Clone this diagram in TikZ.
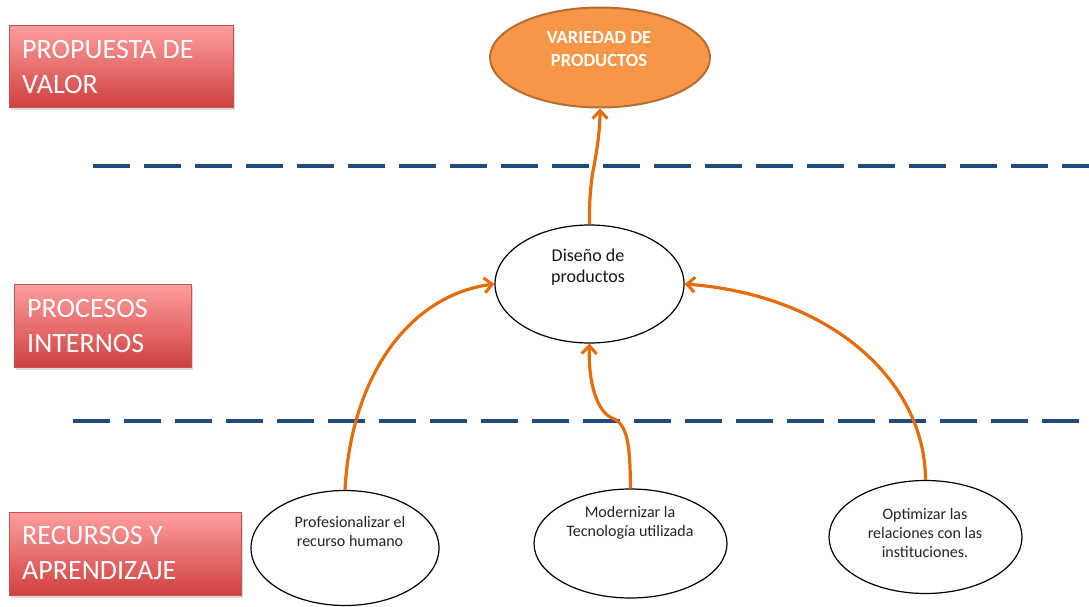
\documentclass[tikz,border=0pt]{standalone}
\usepackage{fontspec}
\setmainfont{Carlito}
\usetikzlibrary{arrows.meta,shadows,shapes.geometric}

\definecolor{boxtop}{RGB}{255,158,158}
\definecolor{boxbot}{RGB}{206,64,62}
\definecolor{boxline}{RGB}{200,84,80}
\definecolor{valfill}{RGB}{247,150,70}
\definecolor{valline}{RGB}{182,110,50}
\definecolor{flow}{RGB}{228,108,10}
\definecolor{divider}{RGB}{34,74,128}

\begin{document}
\begin{tikzpicture}[x=1pt,y=-1pt,
  perspbox/.style={draw=boxline, line width=0.8pt, top color=boxtop, bottom color=boxbot,
    anchor=north west, inner sep=0pt,
    drop shadow={shadow xshift=2pt, shadow yshift=-2.5pt, opacity=0.3}},
  boxlabel/.style={text=white, anchor=west, align=left, inner sep=0pt,
    font=\fontsize{28}{35}\selectfont},
  goal/.style={ellipse, draw=valline, line width=2pt, fill=valfill, inner sep=0pt},
  goallabel/.style={text=white, align=center, inner sep=0pt,
    font=\bfseries\fontsize{18.5}{23.5}\selectfont},
  objective/.style={ellipse, draw=black, line width=1.2pt, fill=white, inner sep=0pt},
  objlabel/.style={align=center, inner sep=0pt, text=black!85,
    font=\fontsize{16}{19}\selectfont},
  midlabel/.style={align=center, inner sep=0pt, text=black!90,
    font=\fontsize{18}{21.5}\selectfont},
  divline/.style={draw=divider, line width=4.5pt, dash pattern=on 37pt off 14pt},
  flowarrow/.style={draw=flow, line width=3.2pt,
    -{Straight Barb[length=8pt,width=15pt,line width=3pt]}}
]
\useasboundingbox (0,0) rectangle (1089,607);

% perspective labels on the left
\node[perspbox, minimum width=224pt, minimum height=82pt] (pv) at (9,25) {};
\node[boxlabel] (pvtext) at (22,67) {PROPUESTA DE\\VALOR};

\node[perspbox, minimum width=177pt, minimum height=83pt] (pi) at (14,284) {};
\node[boxlabel] (pitext) at (27,326) {PROCESOS\\INTERNOS};

\node[perspbox, minimum width=232pt, minimum height=83pt] (ra) at (9,512) {};
\node[boxlabel] (ratext) at (22,553) {RECURSOS Y\\APRENDIZAJE};

% dashed dividers between the levels
\draw[divline] (93,166) -- (1089,166);
\draw[divline] (73,421) -- (1080,421);

% objectives
\node[goal, minimum width=220pt, minimum height=100pt] (var) at (600,57.5) {};
\node[goallabel] (vartext) at (599,49) {VARIEDAD DE\\PRODUCTOS};

\node[objective, minimum width=189pt, minimum height=118pt] (dis) at (589.5,284) {};
\node[midlabel] (distext) at (588,267) {Diseño de\\productos};

\node[objective, minimum width=188pt, minimum height=115pt] (prof) at (345,548) {};
\node[objlabel] (proftext) at (350,531) {Profesionalizar el\\recurso humano};

\node[objective, minimum width=193pt, minimum height=109pt] (mod) at (630.5,543.5) {};
\node[objlabel] (modtext) at (630,523) {Modernizar la\\Tecnología utilizada};

\node[objective, minimum width=193pt, minimum height=113pt] (opt) at (925.5,537) {};
\node[objlabel] (opttext) at (925,533) {Optimizar las\\relaciones con las\\instituciones.};

% cause-effect arrows
\draw[flowarrow] (dis.north) .. controls (589,195) and (592,175) .. (594,166)
  .. controls (597,150) and (600,130) .. (var.south);
\draw[flowarrow] (prof.north) .. controls (351,375) and (410,295) .. (dis.west);
\draw[flowarrow] (mod.north) .. controls (630,445) and (628,424) .. (612,418)
  .. controls (598,412) and (588,385) .. (dis.south);
\draw[flowarrow] (opt.north) .. controls (925,380) and (830,295) .. (dis.east);
\end{tikzpicture}
\end{document}
